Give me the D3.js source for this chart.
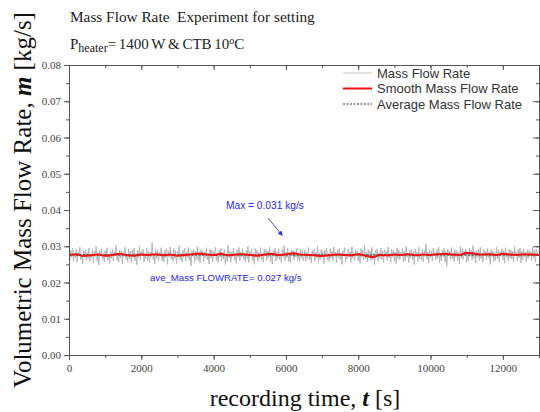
<!DOCTYPE html>
<html>
<head>
<meta charset="utf-8">
<script src="https://cdn.jsdelivr.net/npm/d3@7"></script>
<style>
  body { margin: 0; background: #fff; }
  svg { display: block; }
</style>
</head>
<body>
<div id="chart"></div>
<script>
// raw mass flow rate, one reading every 25 s (kg/s)
const rawStep = 25;
const rawFlow = [
  0.0276,0.0262,0.0289,0.0270,0.0294,0.0259,0.0281,0.0268,0.0291,0.0256,
  0.0284,0.0272,0.0298,0.0263,0.0279,0.0252,0.0287,0.0274,0.0290,0.0261,
  0.0283,0.0266,0.0295,0.0258,0.0277,0.0269,0.0292,0.0255,0.0286,0.0271,
  0.0300,0.0260,0.0282,0.0248,0.0289,0.0273,0.0293,0.0264,0.0280,0.0257,
  0.0288,0.0270,0.0296,0.0262,0.0278,0.0253,0.0285,0.0267,0.0291,0.0259,
  0.0283,0.0275,0.0302,0.0261,0.0280,0.0256,0.0290,0.0268,0.0287,0.0251,
  0.0284,0.0271,0.0297,0.0263,0.0279,0.0258,0.0293,0.0266,0.0286,0.0254,
  0.0289,0.0272,0.0294,0.0260,0.0281,0.0249,0.0288,0.0269,0.0299,0.0262,
  0.0285,0.0274,0.0292,0.0257,0.0280,0.0265,0.0295,0.0261,0.0287,0.0255,
  0.0283,0.0270,0.0310,0.0263,0.0278,0.0252,0.0291,0.0267,0.0289,0.0259,
  0.0284,0.0273,0.0296,0.0260,0.0282,0.0256,0.0290,0.0269,0.0293,0.0250,
  0.0286,0.0271,0.0298,0.0264,0.0279,0.0258,0.0294,0.0266,0.0288,0.0253,
  0.0285,0.0275,0.0301,0.0262,0.0281,0.0257,0.0290,0.0270,0.0295,0.0259,
  0.0283,0.0268,0.0297,0.0261,0.0278,0.0246,0.0289,0.0272,0.0292,0.0256,
  0.0287,0.0264,0.0299,0.0260,0.0282,0.0254,0.0291,0.0273,0.0288,0.0258,
  0.0284,0.0269,0.0296,0.0263,0.0280,0.0251,0.0293,0.0267,0.0290,0.0257,
  0.0286,0.0274,0.0298,0.0261,0.0279,0.0255,0.0289,0.0270,0.0294,0.0260,
  0.0283,0.0265,0.0292,0.0249,0.0281,0.0258,0.0303,0.0268,0.0287,0.0256,
  0.0285,0.0272,0.0295,0.0262,0.0278,0.0253,0.0290,0.0269,0.0297,0.0259,
  0.0284,0.0271,0.0293,0.0264,0.0282,0.0257,0.0288,0.0266,0.0300,0.0255,
  0.0286,0.0273,0.0291,0.0260,0.0280,0.0250,0.0294,0.0270,0.0289,0.0258,
  0.0283,0.0267,0.0296,0.0263,0.0279,0.0256,0.0292,0.0274,0.0290,0.0261,
  0.0287,0.0269,0.0298,0.0257,0.0281,0.0252,0.0289,0.0272,0.0295,0.0259,
  0.0285,0.0266,0.0293,0.0262,0.0280,0.0255,0.0291,0.0271,0.0302,0.0260,
  0.0284,0.0268,0.0296,0.0258,0.0278,0.0254,0.0290,0.0273,0.0288,0.0263,
  0.0286,0.0270,0.0294,0.0261,0.0282,0.0257,0.0292,0.0267,0.0289,0.0260,
  0.0271,0.0290,0.0258,0.0284,0.0266,0.0297,0.0262,0.0279,0.0254,0.0288,
  0.0273,0.0292,0.0259,0.0283,0.0268,0.0301,0.0256,0.0281,0.0264,0.0291,
  0.0270,0.0286,0.0252,0.0289,0.0275,0.0295,0.0261,0.0280,0.0257,0.0293,
  0.0267,0.0287,0.0260,0.0298,0.0272,0.0284,0.0255,0.0290,0.0269,0.0294,
  0.0263,0.0282,0.0250,0.0288,0.0274,0.0296,0.0258,0.0279,0.0265,0.0292,
  0.0271,0.0285,0.0256,0.0299,0.0268,0.0283,0.0261,0.0290,0.0276,0.0287,
  0.0259,0.0281,0.0253,0.0294,0.0270,0.0289,0.0262,0.0304,0.0266,0.0284,
  0.0257,0.0291,0.0273,0.0286,0.0260,0.0297,0.0264,0.0280,0.0248,0.0289,
  0.0272,0.0293,0.0258,0.0282,0.0267,0.0295,0.0263,0.0287,0.0255,0.0290,
  0.0274,0.0285,0.0261,0.0298,0.0269,0.0281,0.0256,0.0292,0.0271,0.0288,
  0.0259,0.0284,0.0252,0.0296,0.0266,0.0290,0.0262,0.0283,0.0275,0.0294,
  0.0257,0.0286,0.0260,0.0300,0.0270,0.0282,0.0254,0.0289,0.0268,0.0291,
  0.0263,0.0287,0.0249,0.0293,0.0273,0.0285,0.0258,0.0297,0.0265,0.0280,
  0.0261,0.0292,0.0256,0.0288,0.0272,0.0306,0.0264,0.0284,0.0253,0.0290,
  0.0269,0.0286,0.0259,0.0295,0.0276,0.0283,0.0262,0.0291,0.0267,0.0298,
  0.0255,0.0281,0.0260,0.0289,0.0271,0.0294,0.0257,0.0285,0.0245,0.0292,
  0.0274,0.0287,0.0263,0.0296,0.0266,0.0282,0.0258,0.0290,0.0270,0.0288,
  0.0261,0.0284,0.0251,0.0299,0.0268,0.0293,0.0264,0.0286,0.0273,0.0291,
  0.0256,0.0283,0.0259,0.0295,0.0272,0.0289,0.0262,0.0302,0.0267,0.0285,
  0.0254,0.0288,0.0270,0.0292,0.0260,0.0297,0.0265,0.0281,0.0257,0.0290,
  0.0275,0.0286,0.0263,0.0294,0.0269,0.0284,0.0250,0.0291,0.0271,0.0287,
  0.0258,0.0283,0.0261,0.0298,0.0266,0.0290,0.0256,0.0285,0.0274,0.0293,
  0.0262,0.0288,0.0253,0.0296,0.0270,0.0282,0.0259,0.0292,0.0267,0.0289,
  0.0264,0.0286,0.0257,0.0300,0.0273,0.0284,0.0260,0.0291,0.0268,0.0295,
  0.0255,0.0287,0.0262,0.0293,0.0271,0.0283,0.0258,0.0290,0.0266,0.0288,
  0.0272,0.0285,0.0261,0.0297,0.0269,0.0289,0.0256,0.0292,0.0274,0.0286
];

// smoothed mass flow rate, every 200 s (kg/s)
const smoothStep = 200;
const smoothFlow = [
  0.0276,0.0278,0.0273,0.0275,0.0277,0.0274,0.0276,0.0279,0.0275,0.0274,
  0.0277,0.0276,0.0278,0.0275,0.0277,0.0274,0.0276,0.0278,0.0280,0.0277,
  0.0276,0.0279,0.0275,0.0277,0.0278,0.0276,0.0274,0.0277,0.0279,0.0276,
  0.0278,0.0281,0.0277,0.0276,0.0275,0.0273,0.0275,0.0277,0.0276,0.0275,
  0.0278,0.0274,0.0270,0.0276,0.0275,0.0277,0.0276,0.0278,0.0275,0.0277,
  0.0276,0.0278,0.0279,0.0277,0.0276,0.0282,0.0280,0.0277,0.0278,0.0276,
  0.0279,0.0277,0.0276,0.0278,0.0277,0.0276
];

// average line
const avgFlow = [0.0276];

const xTicks = [0, 2000, 4000, 6000, 8000, 10000, 12000];
const yTicks = [0, 0.01, 0.02, 0.03, 0.04, 0.05, 0.06, 0.07, 0.08];

const legendItems = ["Mass Flow Rate", "Smooth Mass Flow Rate", "Average Mass Flow Rate"];

const width = 540, height = 412;
const margin = {top: 65, right: 1, bottom: 57, left: 69};

const svg = d3.select("#chart").append("svg")
    .attr("width", width)
    .attr("height", height);

const x = d3.scaleLinear().domain([0, 13000]).range([margin.left, width - margin.right]);
const y = d3.scaleLinear().domain([0, 0.08]).range([height - margin.bottom, margin.top]);

const serif = "'Liberation Serif', 'Times New Roman', serif";
const sans = "'Liberation Sans', Arial, sans-serif";
const axisColor = "#555";

// clip to plot area
svg.append("clipPath").attr("id", "clip")
  .append("rect")
    .attr("x", margin.left).attr("y", margin.top)
    .attr("width", width - margin.right - margin.left)
    .attr("height", height - margin.bottom - margin.top);

const plot = svg.append("g").attr("clip-path", "url(#clip)");

const line = d3.line().x(d => x(d[0])).y(d => y(d[1]));

plot.append("path")
    .datum(rawFlow.map((v, i) => [i * rawStep, v]))
    .attr("fill", "none")
    .attr("stroke", "#b6b6b6")
    .attr("stroke-width", 1)
    .attr("d", line);

plot.append("path")
    .datum([[0, avgFlow[0]], [13000, avgFlow[0]]])
    .attr("fill", "none")
    .attr("stroke", "#000")
    .attr("stroke-width", 0.8)
    .attr("stroke-dasharray", "2,1.5")
    .attr("d", line);

plot.append("path")
    .datum(smoothFlow.map((v, i) => [i * smoothStep, v]))
    .attr("fill", "none")
    .attr("stroke", "#ee1111")
    .attr("stroke-width", 2)
    .attr("d", line.curve(d3.curveMonotoneX));

// axes
const xMinor = d3.range(0, 13001, 1000);
const yMinor = d3.range(0, 0.0801, 0.005);

function styleAxis(g) {
    g.selectAll(".domain").attr("stroke", axisColor);
    g.selectAll(".tick line").attr("stroke", axisColor);
}

// bottom
svg.append("g")
    .attr("transform", `translate(0,${y(0)})`)
    .call(d3.axisBottom(x).tickValues(xMinor).tickSize(3).tickFormat("").tickSizeOuter(0))
    .call(styleAxis);
svg.append("g")
    .attr("transform", `translate(0,${y(0)})`)
    .call(d3.axisBottom(x).tickValues(xTicks).tickSize(5).tickSizeOuter(0).tickPadding(4).tickFormat(d3.format("d")))
    .call(styleAxis)
    .call(g => g.selectAll("text").attr("font-family", serif).attr("font-size", 11).attr("fill", "#444"));

// top
svg.append("g")
    .attr("transform", `translate(0,${y(0.08)})`)
    .call(d3.axisBottom(x).tickValues(xMinor).tickSize(3).tickFormat("").tickSizeOuter(0))
    .call(styleAxis);
svg.append("g")
    .attr("transform", `translate(0,${y(0.08)})`)
    .call(d3.axisBottom(x).tickValues(xTicks).tickSize(5).tickFormat("").tickSizeOuter(0))
    .call(styleAxis);

// left
svg.append("g")
    .attr("transform", `translate(${x(0)},0)`)
    .call(d3.axisLeft(y).tickValues(yMinor).tickSize(3).tickFormat("").tickSizeOuter(0))
    .call(styleAxis);
svg.append("g")
    .attr("transform", `translate(${x(0)},0)`)
    .call(d3.axisLeft(y).tickValues(yTicks).tickSize(5).tickSizeOuter(0).tickPadding(3).tickFormat(d3.format(".2f")))
    .call(styleAxis)
    .call(g => g.selectAll("text").attr("font-family", serif).attr("font-size", 11).attr("fill", "#444"));

// right
svg.append("g")
    .attr("transform", `translate(${x(13000)},0)`)
    .call(d3.axisLeft(y).tickValues(yMinor).tickSize(3).tickFormat("").tickSizeOuter(0))
    .call(styleAxis);
svg.append("g")
    .attr("transform", `translate(${x(13000)},0)`)
    .call(d3.axisLeft(y).tickValues(yTicks).tickSize(6).tickFormat("").tickSizeOuter(0))
    .call(styleAxis);

// titles
svg.append("text")
    .attr("x", 70).attr("y", 22)
    .attr("font-family", serif).attr("font-size", 15.3)
    .attr("fill", "#222")
    .text("Mass Flow Rate\u00a0 Experiment for setting");

const t2 = svg.append("text")
    .attr("x", 70).attr("y", 49)
    .attr("font-family", serif).attr("font-size", 15)
    .attr("word-spacing", -1)
    .attr("fill", "#222");
t2.append("tspan").text("P");
t2.append("tspan").attr("dy", 3).attr("font-size", 12).text("heater");
t2.append("tspan").attr("dy", -3).text("= 1400 W & CTB 10");
t2.append("tspan").attr("dy", -5).attr("font-size", 10).text("o");
t2.append("tspan").attr("dy", 5).text("C");

// axis labels
const xl = svg.append("text")
    .attr("x", 305).attr("y", 406)
    .attr("text-anchor", "middle")
    .attr("font-family", serif).attr("font-size", 24)
    .attr("fill", "#111");
xl.append("tspan").text("recording time, ");
xl.append("tspan").attr("font-weight", "bold").attr("font-style", "italic").text("t");
xl.append("tspan").text(" [s]");

const yl = svg.append("text")
    .attr("transform", "translate(31,200) rotate(-90)")
    .attr("text-anchor", "middle")
    .attr("font-family", serif).attr("font-size", 25)
    .attr("fill", "#111");
yl.append("tspan").text("Volumetric Mass Flow Rate, ");
yl.append("tspan").attr("font-weight", "bold").attr("font-style", "italic").text("m");
yl.append("tspan").text(" [kg/s]");

// legend
const legend = svg.append("g").attr("font-family", sans).attr("font-size", 13).attr("fill", "#333");
const legendStyle = [
    {stroke: "#c8c8c8", width: 1, dash: null},
    {stroke: "#ee1111", width: 2, dash: null},
    {stroke: "#000", width: 0.8, dash: "2,1.5"}
];
legendItems.forEach((name, i) => {
    const ly = 73 + i * 15.5;
    legend.append("line")
        .attr("x1", 343).attr("x2", 372).attr("y1", ly).attr("y2", ly)
        .attr("stroke", legendStyle[i].stroke)
        .attr("stroke-width", legendStyle[i].width)
        .attr("stroke-dasharray", legendStyle[i].dash);
    legend.append("text")
        .attr("x", 377).attr("y", ly).attr("dy", "0.35em")
        .text(name);
});

// annotations
const blue = "#2626ee";
svg.append("defs").append("marker")
    .attr("id", "arrow")
    .attr("viewBox", "0 0 10 10")
    .attr("refX", 9).attr("refY", 5)
    .attr("markerWidth", 6).attr("markerHeight", 6)
    .attr("orient", "auto")
  .append("path")
    .attr("d", "M0,0L10,5L0,10z")
    .attr("fill", blue);

svg.append("text")
    .attr("x", 226).attr("y", 205).attr("dy", "0.35em")
    .attr("font-family", sans).attr("font-size", 10.2)
    .attr("fill", blue)
    .text("Max = 0.031 kg/s");

svg.append("line")
    .attr("x1", 268).attr("y1", 218)
    .attr("x2", x(5900)).attr("y2", y(0.033))
    .attr("stroke", blue).attr("stroke-width", 0.8)
    .attr("marker-end", "url(#arrow)");

svg.append("text")
    .attr("x", 150).attr("y", 278).attr("dy", "0.35em")
    .attr("font-family", sans).attr("font-size", 9.6)
    .attr("fill", blue)
    .text("ave_Mass FLOWRATE= 0.027 kg/s");
</script>
</body>
</html>
